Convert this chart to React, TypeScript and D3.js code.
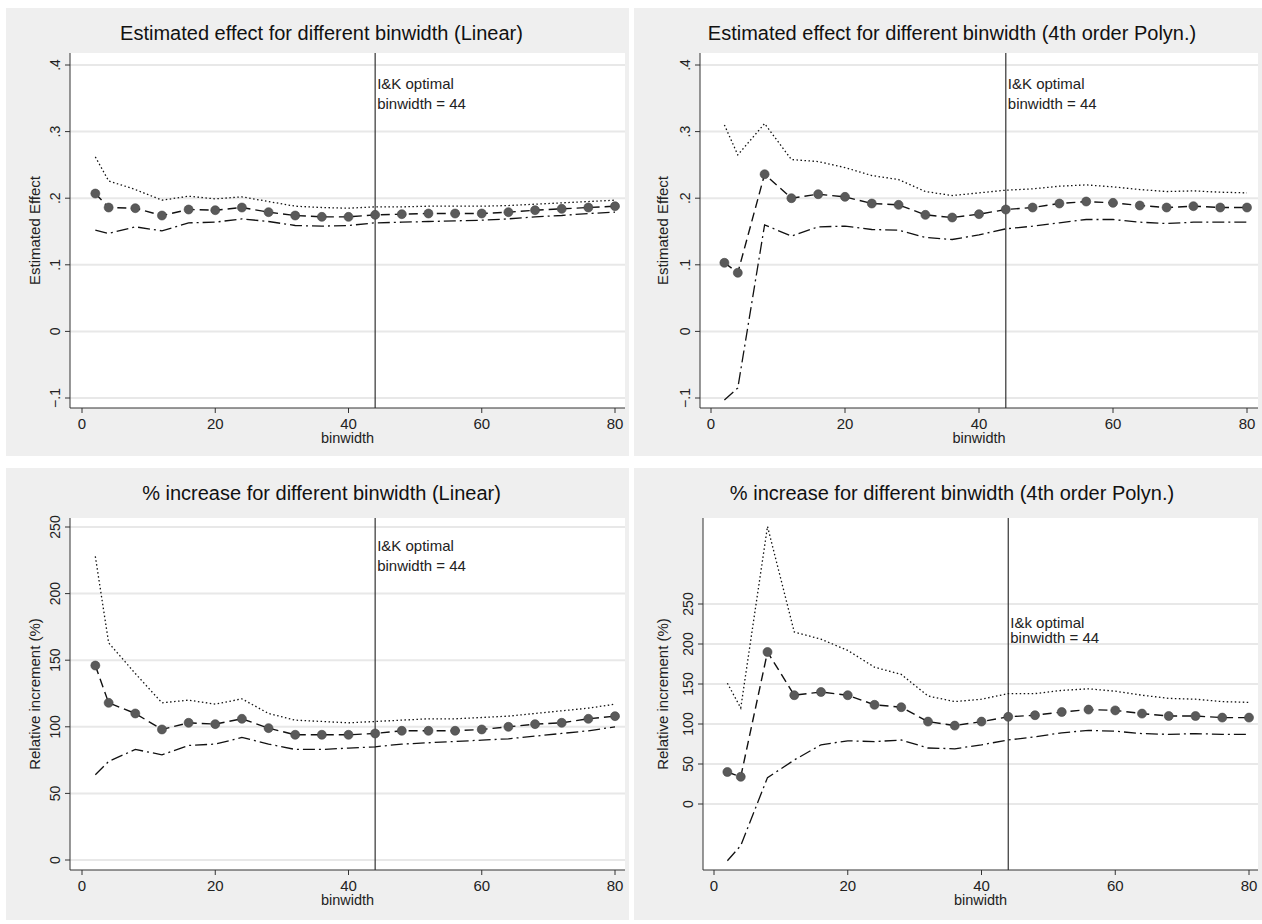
import React from 'react';
import * as d3 from 'd3';

const binwidths = [2, 4, 8, 12, 16, 20, 24, 28, 32, 36, 40, 44, 48, 52, 56, 60, 64, 68, 72, 76, 80];

const linEst = [.207, .186, .185, .174, .183, .182, .186, .179, .174, .172, .172, .175, .176, .177, .177, .177, .179, .182, .184, .186, .188];
const linEstHi = [.262, .226, .213, .197, .203, .199, .202, .195, .188, .186, .185, .187, .187, .188, .188, .188, .189, .191, .193, .195, .197];
const linEstLo = [.152, .147, .157, .151, .163, .164, .169, .165, .159, .158, .159, .163, .164, .165, .166, .167, .169, .172, .174, .177, .179];

const polEst = [.103, .088, .236, .200, .206, .202, .192, .190, .175, .171, .176, .183, .186, .192, .195, .193, .189, .186, .188, .186, .186];
const polEstHi = [.31, .265, .312, .258, .255, .246, .234, .228, .210, .204, .208, .212, .214, .218, .220, .217, .213, .210, .211, .209, .208];
const polEstLo = [-.103, -.085, .160, .143, .157, .158, .153, .152, .141, .138, .145, .154, .158, .163, .168, .168, .164, .162, .164, .164, .164];

const linPct = [146, 118, 110, 98, 103, 102, 106, 99, 94, 94, 94, 95, 97, 97, 97, 98, 100, 102, 103, 106, 108];
const linPctHi = [228, 163, 140, 118, 120, 117, 121, 110, 105, 104, 103, 104, 105, 106, 106, 107, 108, 110, 112, 114, 117];
const linPctLo = [64, 74, 83, 79, 86, 87, 92, 87, 83, 83, 84, 85, 87, 88, 89, 90, 91, 93, 95, 97, 100];

const polPct = [40, 34, 190, 136, 140, 136, 124, 121, 103, 98, 103, 109, 111, 115, 118, 117, 113, 110, 110, 108, 108];
const polPctHi = [151, 120, 347, 215, 206, 192, 171, 162, 135, 128, 131, 138, 138, 142, 144, 141, 136, 132, 131, 128, 127];
const polPctLo = [-71, -52, 33, 55, 74, 79, 78, 80, 70, 69, 74, 80, 84, 89, 92, 91, 88, 87, 88, 87, 87];

const xTicks = [0, 20, 40, 60, 80];
const effTicks = [-.1, 0, .1, .2, .3, .4];
const pctTicks = [0, 50, 100, 150, 200, 250];
const optimal = 44;

const FONT = '"Liberation Sans", Arial, sans-serif';

interface PanelProps {
  box: [number, number, number, number];
  plot: [number, number, number, number]; // left, top, right, bottom
  xRange: [number, number];
  yDomain: [number, number];
  yRange: [number, number];
  yTicks: number[];
  fmt: (v: number) => string;
  title: string;
  yTitle: string;
  est: number[];
  hi: number[];
  lo: number[];
  note: [string, string];
  noteY: [number, number];
}

const Panel: React.FC<PanelProps> = (p) => {
  const [bx, by, bw, bh] = p.box;
  const [pl, pt, pr, pb] = p.plot;
  const x = d3.scaleLinear().domain([0, 80]).range(p.xRange);
  const y = d3.scaleLinear().domain(p.yDomain).range(p.yRange);
  const line = (vals: number[]) =>
    d3.line<number>().x((_, i) => x(binwidths[i])).y((v) => y(v))(vals) || '';
  const cx = (pl + pr) / 2;
  return (
    <g>
      <rect x={bx} y={by} width={bw} height={bh} fill="#efefef" />
      <rect x={pl} y={pt} width={pr - pl} height={pb - pt} fill="#fff" />
      <text x={bx + bw / 2 + 4} y={by + 32} textAnchor="middle" fontSize={20} fill="#111">{p.title}</text>
      {p.yTicks.map((t) => (
        <g key={t}>
          <line x1={pl} x2={pr} y1={y(t)} y2={y(t)} stroke="#e8e8e8" strokeWidth={2} />
          <line x1={pl - 5} x2={pl} y1={y(t)} y2={y(t)} stroke="#333" />
          <text transform={`translate(${pl - 10},${y(t)}) rotate(-90)`} textAnchor="middle" fontSize={14} fill="#222">{p.fmt(t)}</text>
        </g>
      ))}
      {xTicks.map((t) => (
        <g key={t}>
          <line x1={x(t)} x2={x(t)} y1={pb} y2={pb + 5} stroke="#333" />
          <text x={x(t)} y={pb + 21} textAnchor="middle" fontSize={15} fill="#222">{t}</text>
        </g>
      ))}
      <line x1={pl} x2={pr} y1={pb} y2={pb} stroke="#333" />
      <line x1={pl} x2={pl} y1={pt} y2={pb} stroke="#333" />
      <text x={cx} y={pb + 35} textAnchor="middle" fontSize={14.5} fill="#222">binwidth</text>
      <text transform={`translate(${bx + 34},${(pt + pb) / 2}) rotate(-90)`} textAnchor="middle" fontSize={15} fill="#222">{p.yTitle}</text>
      <line x1={x(optimal)} x2={x(optimal)} y1={pt} y2={pb} stroke="#333" strokeWidth={1.2} />
      <text x={x(optimal) + 2} y={p.noteY[0]} fontSize={15} fill="#222">{p.note[0]}</text>
      <text x={x(optimal) + 2} y={p.noteY[1]} fontSize={15} fill="#222">{p.note[1]}</text>
      <path d={line(p.hi)} fill="none" stroke="#111" strokeWidth={1.3} strokeDasharray="1.5 2.5" />
      <path d={line(p.lo)} fill="none" stroke="#111" strokeWidth={1.3} strokeDasharray="12 4 2 4" />
      <path d={line(p.est)} fill="none" stroke="#111" strokeWidth={1.4} strokeDasharray="9 5" />
      {p.est.map((v, i) => (
        <circle key={i} cx={x(binwidths[i])} cy={y(v)} r={4.5} fill="#5a5a5a" stroke="#444" strokeWidth={0.6} />
      ))}
    </g>
  );
};

const fmtEff = (v: number) => (v === 0 ? '0' : d3.format('.1f')(v).replace('0.', '.'));
const fmtPct = (v: number) => String(v);

export default function App() {
  return (
    <svg width={1262} height={924} style={{ position: 'absolute', left: 0, top: 0, fontFamily: FONT, background: '#fff' }}>
      <Panel box={[6, 8, 623, 448]} plot={[70, 53, 625, 408]} xRange={[82, 615]} yDomain={[-.1, .4]} yRange={[398, 65]}
        yTicks={effTicks} fmt={fmtEff} title="Estimated effect for different binwidth (Linear)" yTitle="Estimated Effect"
        est={linEst} hi={linEstHi} lo={linEstLo} note={['I&K optimal', 'binwidth = 44']} noteY={[89, 109]} />
      <Panel box={[634, 8, 628, 448]} plot={[700, 53, 1258, 408]} xRange={[711, 1247]} yDomain={[-.1, .4]} yRange={[398, 65]}
        yTicks={effTicks} fmt={fmtEff} title="Estimated effect for different binwidth (4th order Polyn.)" yTitle="Estimated Effect"
        est={polEst} hi={polEstHi} lo={polEstLo} note={['I&K optimal', 'binwidth = 44']} noteY={[89, 109]} />
      <Panel box={[6, 468, 623, 452]} plot={[70, 518, 625, 870]} xRange={[82, 615]} yDomain={[0, 250]} yRange={[860, 527]}
        yTicks={pctTicks} fmt={fmtPct} title="% increase for different binwidth (Linear)" yTitle="Relative increment (%)"
        est={linPct} hi={linPctHi} lo={linPctLo} note={['I&K optimal', 'binwidth = 44']} noteY={[551, 571]} />
      <Panel box={[634, 468, 628, 452]} plot={[703, 518, 1258, 870]} xRange={[714, 1249]} yDomain={[0, 250]} yRange={[804, 604]}
        yTicks={pctTicks} fmt={fmtPct} title="% increase for different binwidth (4th order Polyn.)" yTitle="Relative increment (%)"
        est={polPct} hi={polPctHi} lo={polPctLo} note={['I&k optimal', 'binwidth = 44']} noteY={[628, 643]} />
    </svg>
  );
}
